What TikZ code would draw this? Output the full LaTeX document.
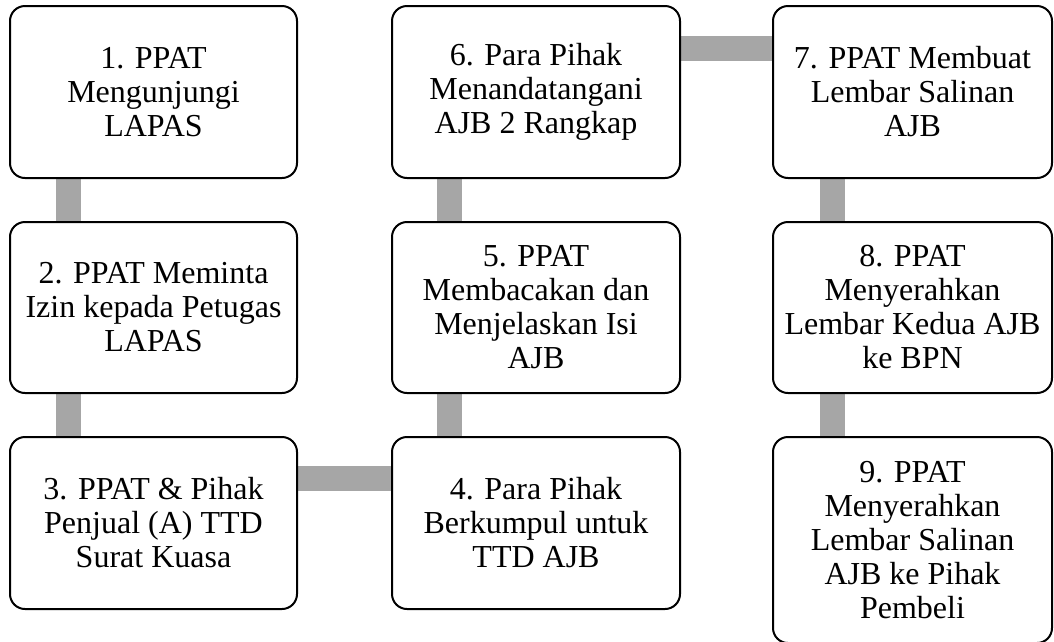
\documentclass[tikz,border=0pt]{standalone}
\usepackage{fontspec}
\setmainfont{Liberation Serif}
\usetikzlibrary{backgrounds}
\definecolor{barg}{RGB}{166,166,166}
\begin{document}
\begin{tikzpicture}[x=1pt,y=-1pt,
  stepbox/.style={draw=black, line width=2pt, fill=white, rounded corners=15pt,
    align=center, font=\fontsize{32}{34}\selectfont, inner sep=0pt},
  bar/.style={draw=barg, line width=25pt}]
\useasboundingbox (0,0) rectangle (1054,641);
\clip (0,0) rectangle (1054,641);
% column 1
\node[stepbox, minimum width=287pt, minimum height=172pt] (b1) at (153.5,92) {1. PPAT\\Mengunjungi\\LAPAS};
\node[stepbox, minimum width=287pt, minimum height=171pt] (b2) at (153.5,307.5) {2. PPAT Meminta\\Izin kepada Petugas\\LAPAS};
\node[stepbox, minimum width=287pt, minimum height=172pt] (b3) at (153.5,523) {3. PPAT \& Pihak\\Penjual (A) TTD\\Surat Kuasa};
% column 2
\node[stepbox, minimum width=288pt, minimum height=172pt] (b4) at (536,523) {4. Para Pihak\\Berkumpul untuk\\TTD AJB};
\node[stepbox, minimum width=288pt, minimum height=171pt] (b5) at (536,307.5) {5. PPAT\\Membacakan dan\\Menjelaskan Isi\\AJB};
\node[stepbox, minimum width=288pt, minimum height=172pt] (b6) at (536,92) {6. Para Pihak\\Menandatangani\\AJB 2 Rangkap};
% column 3
\node[stepbox, minimum width=279pt, minimum height=172pt] (b7) at (912.5,92) {7. PPAT Membuat\\Lembar Salinan\\AJB};
\node[stepbox, minimum width=279pt, minimum height=171pt] (b8) at (912.5,307.5) {8. PPAT\\Menyerahkan\\Lembar Kedua AJB\\ke BPN};
\node[stepbox, minimum width=279pt, minimum height=206pt] (b9) at (912.5,540) {9. PPAT\\Menyerahkan\\Lembar Salinan\\AJB ke Pihak\\Pembeli};
% connectors
\begin{scope}[on background layer]
\draw[bar] ([xshift=59pt]b1.south west) -- ([xshift=59pt]b2.north west);
\draw[bar] ([xshift=59pt]b2.south west) -- ([xshift=59pt]b3.north west);
\draw[bar] ([yshift=-42.5pt]b3.north east) -- ([yshift=-42.5pt]b4.north west);
\draw[bar] ([xshift=58.5pt]b4.north west) -- ([xshift=58.5pt]b5.south west);
\draw[bar] ([xshift=58.5pt]b5.north west) -- ([xshift=58.5pt]b6.south west);
\draw[bar] ([yshift=-43pt]b6.north east) -- ([yshift=-43pt]b7.north west);
\draw[bar] ([xshift=60pt]b7.south west) -- ([xshift=60pt]b8.north west);
\draw[bar] ([xshift=60pt]b8.south west) -- ([xshift=60pt]b9.north west);
\end{scope}
\end{tikzpicture}
\end{document}
